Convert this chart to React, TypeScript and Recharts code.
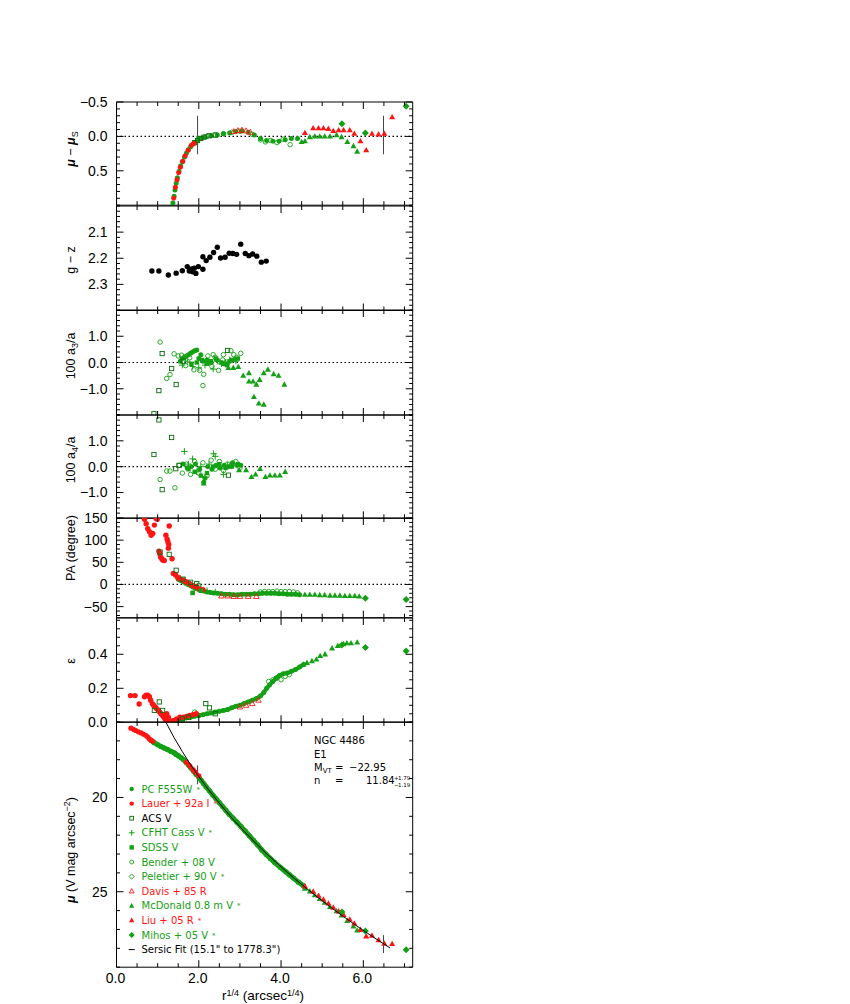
import React from 'react';
import { ScatterChart, Scatter, XAxis, YAxis, ReferenceLine } from 'recharts';

const GREEN = '#14a014';
const DKGREEN = '#0c6a0c';
const RED = '#ff1414';
const FONT = '"Liberation Sans", Arial, sans-serif';
const LFONT = '"DejaVu Sans", sans-serif';

const PL = 116.5; // plot left
const PR = 412.7; // plot right
const XDOM: [number, number] = [0, 7.2];

const range = (a: number, b: number, s: number) => {
  const out: number[] = [];
  for (let v = a; v <= b + s / 1000; v += s) out.push(Math.round(v * 1e6) / 1e6);
  return out;
};

// ---------- tick labels ----------
const xTicks = range(0, 7, 0.5);
const xLabelTicks = [0, 2, 4, 6];
const fitRangeX = [1.97, 6.49];

// ---------- panel 1 : mu - mu_S ----------
const pcRes = [[1.37, 0.97], [1.40, 0.87], [1.42, 0.78], [1.45, 0.68], [1.48, 0.60], [1.52, 0.51], [1.56, 0.43], [1.60, 0.37], [1.65, 0.30], [1.70, 0.24], [1.75, 0.19], [1.80, 0.15], [1.86, 0.11], [1.92, 0.08], [1.98, 0.05], [2.05, 0.03], [2.15, 0.01], [2.30, -0.01], [2.45, -0.02], [2.60, -0.04], [2.75, -0.05], [2.90, -0.07], [3.05, -0.08], [3.20, -0.06], [3.35, -0.02], [3.50, 0.03], [3.65, 0.06], [3.80, 0.07], [3.95, 0.07], [4.10, 0.05], [4.25, 0.03], [4.40, 0.03]];
const lauerRes = [[1.39, 0.90], [1.43, 0.74], [1.47, 0.63], [1.51, 0.53], [1.55, 0.45], [1.61, 0.36], [1.67, 0.28], [1.74, 0.20], [1.82, 0.13], [1.88, 0.10]];
const acsRes = [[1.90, 0.09], [1.97, 0.06], [2.05, 0.03], [2.13, 0.01], [2.25, -0.01], [2.40, -0.02]];
const benderRes = [[2.00, 0.03], [2.20, 0.0], [2.40, -0.02], [2.60, -0.04], [2.80, -0.06], [3.00, -0.075], [3.30, -0.03], [3.50, 0.05], [3.62, 0.08], [3.75, 0.06], [3.90, 0.09], [4.05, 0.04], [4.22, 0.12]];
const davisRes = [[2.85, -0.07], [2.95, -0.085], [3.05, -0.09], [3.15, -0.08], [3.25, -0.06]];
const mcdRes = [[4.50, 0.08], [4.58, 0.07], [4.70, 0.01], [4.82, 0.0], [4.94, 0.0], [5.06, 0.0], [5.19, 0.0], [5.35, -0.02], [5.47, 0.01], [5.61, 0.08], [5.76, 0.14], [5.85, 0.22]];
const liuRes = [[4.58, -0.05], [4.78, -0.12], [4.91, -0.12], [5.03, -0.12], [5.15, -0.11], [5.27, -0.08], [5.40, -0.09], [5.52, -0.09], [5.67, -0.09], [5.78, -0.04], [5.93, 0.07], [6.07, 0.20], [6.21, -0.04], [6.37, -0.03], [6.51, -0.04], [6.70, -0.28]];
const mihosRes = [[5.48, -0.185], [6.05, -0.05], [7.04, -0.44]];

// ---------- panel 2 : g - z ----------
const gzColor = [[0.86, 2.249], [1.03, 2.249], [1.26, 2.264], [1.45, 2.257], [1.60, 2.248], [1.72, 2.232], [1.77, 2.249], [1.83, 2.241], [1.85, 2.252], [1.89, 2.238], [1.93, 2.258], [1.99, 2.232], [2.10, 2.242], [2.10, 2.194], [2.18, 2.209], [2.27, 2.196], [2.36, 2.178], [2.45, 2.158], [2.53, 2.199], [2.64, 2.196], [2.74, 2.181], [2.83, 2.182], [2.92, 2.185], [3.02, 2.146], [3.13, 2.182], [3.22, 2.190], [3.31, 2.184], [3.41, 2.192], [3.52, 2.215], [3.64, 2.211]];

// ---------- panel 3 : 100 a3/a ----------
const acsA3 = [[0.91, -1.95], [1.03, -1.07], [1.11, 0.34], [1.34, -0.23], [1.45, -0.84], [1.03, -2.2], [2.70, 0.46], [1.62, 0.05]];
const benderA3 = [[1.06, 0.78], [1.22, -0.61], [1.30, -0.46], [1.40, 0.33], [1.50, 0.25], [1.58, 0.28], [1.68, -0.12], [1.78, 0.18], [1.88, -0.28], [2.02, -0.3], [2.10, -0.88], [2.12, -0.45], [2.22, 0.25], [2.32, -0.15], [2.40, 0.2], [2.48, -0.3], [2.58, 0.1], [2.70, -0.05], [2.78, 0.45], [2.85, 0.3], [2.92, 0.2], [3.02, 0.35], [2.60, 0.3], [2.35, 0.3]];
const pcA3 = [[1.55, 0.05], [1.60, 0.15], [1.65, 0.2], [1.70, 0.25], [1.75, 0.3], [1.80, 0.35], [1.85, 0.40], [1.90, 0.45], [1.95, 0.48], [2.00, 0.15], [2.05, 0.3], [2.10, 0.05], [2.20, 0.1], [2.30, 0.0], [2.45, 0.1], [2.60, -0.05], [2.75, 0.05], [2.88, 0.12]];
const cfhtA3 = [[1.60, -0.1], [1.72, 0.05], [1.85, -0.15], [2.00, -0.2], [2.15, -0.1], [2.25, 0.0], [2.35, -0.25], [2.45, 0.05], [2.55, -0.05], [2.65, 0.0], [2.75, 0.1], [2.90, 0.05]];
const sdssA3 = [[1.82, -0.05], [1.95, 0.0], [2.08, 0.1], [2.20, -0.05], [2.30, 0.05], [2.42, 0.15], [2.55, 0.0], [2.68, -0.1], [2.80, 0.1], [2.95, 0.15]];
const mcdA3 = [[2.72, -0.20], [2.84, -0.20], [2.96, -0.17], [3.08, -0.5], [3.22, -0.4], [3.22, -0.72], [3.32, -0.72], [3.34, -1.31], [3.40, -0.84], [3.46, -1.56], [3.48, -0.66], [3.58, -1.6], [3.58, -0.4], [3.68, -0.27], [3.82, -0.44], [3.94, -0.5], [4.08, -0.84]];

// ---------- panel 4 : 100 a4/a ----------
const acsA4 = [[0.91, 2.1], [1.03, 1.81], [0.91, 0.47], [1.34, 1.13], [1.11, -0.89], [1.44, -0.08], [2.72, -0.33], [1.52, 0.05]];
const benderA4 = [[1.06, -0.5], [1.22, -0.17], [1.30, -0.17], [1.42, -0.82], [1.52, 0.05], [1.60, -0.25], [1.70, 0.1], [1.80, -0.3], [1.90, 0.2], [2.00, -0.25], [2.10, 0.15], [2.20, -0.35], [2.30, 0.25], [2.40, -0.1], [2.50, 0.2], [2.60, -0.15], [2.70, 0.1], [2.80, 0.05], [2.90, 0.2], [3.00, -0.05]];
const cfhtA4 = [[1.65, 0.59], [1.75, 0.1], [1.85, 0.3], [1.95, -0.2], [2.05, 0.0], [2.15, -0.4], [2.25, 0.1], [2.36, 0.5], [2.40, 0.4], [2.50, 0.0], [2.60, -0.3], [2.70, 0.05]];
const pcA4 = [[1.62, 0.1], [1.72, -0.05], [1.82, 0.0], [1.92, 0.1], [2.02, -0.1], [2.12, -0.6], [2.15, -0.45], [2.22, 0.0], [2.32, -0.1], [2.42, 0.05], [2.52, -0.05], [2.62, 0.05], [2.72, 0.0], [2.82, 0.15], [2.92, 0.05], [3.02, 0.05]];
const sdssA4 = [[1.75, -0.1], [1.90, -0.2], [2.05, -0.35], [2.20, -0.25], [2.35, 0.0], [2.50, 0.1], [2.65, -0.05], [2.80, 0.0], [2.95, 0.1]];
const mcdA4 = [[2.12, -0.65], [2.98, -0.13], [3.15, -0.13], [3.28, -0.4], [3.38, -0.3], [3.49, -0.09], [3.62, -0.4], [3.73, -0.34], [3.85, -0.34], [3.97, -0.34], [4.10, -0.2]];

// ---------- panel 5 : PA ----------
const lauerPA = [[0.68, 147], [0.72, 137], [0.76, 126], [0.80, 119], [0.84, 111], [0.88, 115], [0.92, 134], [0.96, 149], [0.99, 147], [1.03, 75], [1.05, 70], [1.07, 62], [1.10, 58], [1.12, 55], [1.16, 54], [1.20, 111], [1.23, 102], [1.25, 96], [1.27, 90], [1.26, 82], [1.28, 132], [1.35, 58], [1.38, 25], [1.43, 22], [1.48, 17], [1.53, 13], [1.61, 10], [1.69, 6], [1.77, 2], [1.85, -3], [1.93, -5], [2.01, -10], [2.10, -12]];
const acsPA = [[1.06, 73], [1.28, 68], [1.45, 32], [1.62, 12], [1.80, 5], [1.95, 2]];
const sdssPA = [[1.85, -19], [2.05, -14]];
const pcPA = [[1.50, 12], [1.56, 9], [1.62, 6], [1.68, 3], [1.74, 0], [1.80, -3], [1.86, -6], [1.92, -9], [1.98, -11], [2.05, -13], [2.12, -15], [2.20, -17], [2.28, -18], [2.36, -19], [2.45, -20], [2.55, -21], [2.65, -22], [2.75, -22], [2.85, -23], [2.95, -23], [3.05, -22], [3.15, -22], [3.25, -22], [3.35, -21], [3.45, -21], [3.55, -20], [3.65, -20], [3.75, -20], [3.85, -20], [3.95, -21], [4.05, -21], [4.15, -22], [4.25, -22], [4.35, -22], [4.45, -23]];
const benderPA = [[1.70, 4], [2.00, -2], [3.50, -17], [3.60, -16], [3.70, -16], [3.80, -16], [3.90, -15], [4.00, -16], [4.10, -16], [4.20, -16], [4.30, -17], [4.40, -19]];
const cfhtPA = [[1.55, 14], [1.65, 8], [1.75, 2], [1.90, -5], [2.05, -9], [2.20, -14], [2.40, -17]];
const davisPA = [[2.55, -26], [2.70, -26], [2.85, -27], [3.00, -27], [3.20, -27], [3.40, -27]];
const mcdPA = [[4.58, -23], [4.70, -23], [4.82, -23], [4.94, -24], [5.06, -24], [5.19, -25], [5.31, -25], [5.43, -25], [5.55, -26], [5.67, -26], [5.79, -26], [5.90, -27]];
const mihosPA = [[6.05, -31], [7.04, -34]];

// ---------- panel 6 : ellipticity ----------
const lauerEps = [[0.34, 0.157], [0.45, 0.157], [0.55, 0.108], [0.68, 0.15], [0.72, 0.16], [0.76, 0.16], [0.80, 0.15], [0.83, 0.13], [0.87, 0.11], [0.90, 0.10], [0.94, 0.09], [0.98, 0.08], [1.02, 0.07], [1.05, 0.06], [1.08, 0.05], [1.12, 0.04], [1.15, 0.03], [1.18, 0.02], [1.21, 0.01], [1.24, 0.005], [1.26, 0.03], [1.22, 0.05], [1.30, 0.01], [1.38, 0.01], [1.46, 0.02], [1.54, 0.03], [1.62, 0.03], [1.70, 0.035], [1.78, 0.04], [1.86, 0.045], [1.94, 0.05]];
const acsEps = [[0.92, 0.07], [1.04, 0.12], [1.12, 0.07], [1.60, 0.02], [1.75, 0.03], [2.17, 0.11], [2.26, 0.085], [2.40, 0.05]];
const pcEps = [[1.40, 0.01], [1.50, 0.015], [1.60, 0.02], [1.70, 0.025], [1.80, 0.03], [1.90, 0.035], [2.00, 0.04], [2.10, 0.045], [2.20, 0.05], [2.30, 0.055], [2.40, 0.06], [2.50, 0.065], [2.60, 0.07], [2.70, 0.075], [2.80, 0.085], [2.90, 0.095], [3.00, 0.10], [3.10, 0.11], [3.20, 0.12], [3.30, 0.13], [3.40, 0.14], [3.50, 0.155], [3.58, 0.175], [3.65, 0.20], [3.72, 0.22], [3.80, 0.24], [3.88, 0.26], [3.96, 0.275], [4.05, 0.285], [4.15, 0.29], [4.25, 0.30], [4.35, 0.31], [4.45, 0.325], [4.55, 0.34]];
const benderEps = [[1.90, 0.06], [2.00, 0.04], [3.70, 0.24], [3.80, 0.25], [3.90, 0.26], [4.00, 0.25], [4.10, 0.27], [4.20, 0.28]];
const davisEps = [[3.00, 0.09], [3.15, 0.10], [3.30, 0.11], [3.45, 0.13]];
const mcdEps = [[4.55, 0.34], [4.63, 0.35], [4.75, 0.36], [4.86, 0.37], [4.95, 0.39], [5.07, 0.40], [5.24, 0.435], [5.38, 0.45], [5.52, 0.46], [5.60, 0.465], [5.70, 0.465], [5.85, 0.47]];
const mihosEps = [[5.48, 0.455], [6.05, 0.44], [7.04, 0.42]];

// ---------- panel 7 : surface brightness ----------
const lauerMu = [[0.35, 16.33], [0.42, 16.40], [0.47, 16.45], [0.53, 16.52], [0.60, 16.58], [0.66, 16.65], [0.72, 16.72], [0.76, 16.80], [0.80, 16.90], [0.84, 16.96], [0.88, 17.02], [1.70, 18.14], [1.78, 18.33], [1.86, 18.52], [1.92, 18.66], [2.00, 18.85]];
const pcMu = [[0.84, 16.98], [0.92, 17.10], [1.00, 17.20], [1.08, 17.30], [1.16, 17.38], [1.24, 17.46], [1.32, 17.55], [1.40, 17.63], [1.45, 17.72], [1.51, 17.80], [1.57, 17.89], [1.63, 18.00], [1.69, 18.13], [1.75, 18.28], [1.81, 18.44], [1.87, 18.60], [1.93, 18.76], [2.00, 18.92], [2.06, 19.10], [2.12, 19.27], [2.18, 19.44], [2.26, 19.65], [2.34, 19.87], [2.42, 20.07], [2.50, 20.28], [2.58, 20.48], [2.66, 20.69], [2.74, 20.89], [2.83, 21.09], [2.93, 21.32], [3.03, 21.55], [3.13, 21.79], [3.23, 22.03], [3.33, 22.28], [3.43, 22.52], [3.53, 22.78], [3.64, 23.03], [3.74, 23.24], [3.84, 23.44], [3.98, 23.70], [4.12, 23.95], [4.21, 24.11], [4.30, 24.27], [4.42, 24.49], [4.55, 24.70]];
const mcdMu = [[4.58, 24.83], [4.70, 24.98], [4.82, 25.18], [4.94, 25.38], [5.06, 25.58], [5.19, 25.80], [5.35, 26.03], [5.47, 26.25], [5.61, 26.54], [5.76, 26.83], [5.85, 27.05]];
const liuMu = [[4.58, 24.71], [4.78, 24.99], [4.91, 25.21], [5.03, 25.41], [5.15, 25.62], [5.27, 25.84], [5.40, 26.04], [5.52, 26.23], [5.67, 26.47], [5.78, 26.68], [5.93, 27.02], [6.07, 27.36], [6.21, 27.32], [6.37, 27.56], [6.51, 27.75], [6.70, 27.77]];
const mihosMu = [[5.48, 26.08], [6.05, 27.08], [7.04, 28.07]];
const fitMu = [[1.20, 16.01], [1.40, 16.83], [1.60, 17.57], [1.80, 18.26], [1.97, 18.80], [2.20, 19.49], [2.50, 20.31], [2.80, 21.08], [3.10, 21.79], [3.40, 22.46], [3.70, 23.09], [4.00, 23.68], [4.30, 24.25], [4.60, 24.79], [4.90, 25.31], [5.20, 25.81], [5.50, 26.29], [5.80, 26.75], [6.10, 27.20], [6.40, 27.63], [6.65, 27.98]];

const legendNames = ['PC F555W', 'Lauer + 92a I', 'ACS V', 'CFHT Cass V', 'SDSS V', 'Bender + 08 V', 'Peletier + 90 V', 'Davis + 85 R', 'McDonald 0.8 m V', 'Liu + 05 R', 'Mihos + 05 V', 'Sersic Fit (15.1" to 1778.3")'];
const legendStar = [true, true, false, true, false, false, true, false, true, true, true, false];
const legendKinds = ['dot', 'dot', 'box', 'plus', 'sq', 'ring', 'odia', 'otri', 'tri', 'tri', 'dia', 'dash'];
const legendColors = [GREEN, RED, DKGREEN, GREEN, GREEN, GREEN, GREEN, RED, GREEN, RED, GREEN, '#000'];
const legendTextColors = [GREEN, RED, '#000', GREEN, GREEN, GREEN, GREEN, RED, GREEN, RED, GREEN, '#000'];

const pts = (a: number[][]) => a.map(([x, y]) => ({ x, y }));

const drawMarker = (kind: string, color: string, cx: number, cy: number, r: number) => {
  const sw = 0.9;
  switch (kind) {
    case 'dot':
      return <circle cx={cx} cy={cy} r={r} fill={color} />;
    case 'ring':
      return <circle cx={cx} cy={cy} r={r * 0.9} fill="none" stroke={color} strokeWidth={sw} />;
    case 'box':
      return <rect x={cx - r * 0.85} y={cy - r * 0.85} width={r * 1.7} height={r * 1.7} fill="none" stroke={color} strokeWidth={sw} />;
    case 'sq':
      return <rect x={cx - r} y={cy - r} width={r * 2} height={r * 2} fill={color} />;
    case 'plus':
      return (
        <g stroke={color} strokeWidth={1}>
          <line x1={cx - r * 1.3} x2={cx + r * 1.3} y1={cy} y2={cy} />
          <line x1={cx} x2={cx} y1={cy - r * 1.3} y2={cy + r * 1.3} />
        </g>
      );
    case 'odia':
      return <polygon points={`${cx},${cy - r * 1.2} ${cx + r * 1.2},${cy} ${cx},${cy + r * 1.2} ${cx - r * 1.2},${cy}`} fill="none" stroke={color} strokeWidth={sw} />;
    case 'dia':
      return <polygon points={`${cx},${cy - r * 1.4} ${cx + r * 1.4},${cy} ${cx},${cy + r * 1.4} ${cx - r * 1.4},${cy}`} fill={color} />;
    case 'otri':
      return <polygon points={`${cx},${cy - r * 1.2} ${cx + r * 1.1},${cy + r * 0.8} ${cx - r * 1.1},${cy + r * 0.8}`} fill="none" stroke={color} strokeWidth={sw} />;
    case 'tri':
      return <polygon points={`${cx},${cy - r * 1.3} ${cx + r * 1.2},${cy + r * 0.85} ${cx - r * 1.2},${cy + r * 0.85}`} fill={color} />;
    case 'dash':
      return <line x1={cx - 3} x2={cx + 3} y1={cy} y2={cy} stroke={color} strokeWidth={1} />;
    default:
      return <g />;
  }
};

const mk = (kind: string, color: string, r = 2.5) => (p: any) => {
  const { cx, cy } = p;
  if (!Number.isFinite(cx) || !Number.isFinite(cy)) return <g />;
  return drawMarker(kind, color, cx, cy, r);
};
const noMark = () => <g />;

const XTick = (props: any) => {
  const { x, y, payload, side, show } = props;
  const v = payload.value;
  const major = xLabelTicks.some((t) => Math.abs(t - v) < 1e-6);
  const len = major ? 7 : 4;
  const dir = side === 'top' ? 1 : -1;
  return (
    <g>
      <line x1={x} x2={x} y1={y} y2={y + dir * len} stroke="#000" strokeWidth={1} />
      {show && major && (
        <text x={x - 1} y={y + 16} textAnchor="middle" fontSize={14} fontFamily={FONT} fill="#000">
          {v.toFixed(1)}
        </text>
      )}
    </g>
  );
};

const YTick = (props: any) => {
  const { x, y, payload, side, labels, fmt } = props;
  const v = payload.value;
  const major = labels.some((t: number) => Math.abs(t - v) < 1e-6);
  const len = major ? 7 : 3.5;
  const dir = side === 'left' ? 1 : -1;
  return (
    <g>
      <line x1={x} x2={x + dir * len} y1={y} y2={y} stroke="#000" strokeWidth={1} />
      {side === 'left' && major && (
        <text x={x - 9} y={y + 5} textAnchor="end" fontSize={14} fontFamily={FONT} fill="#000">
          {fmt(v)}
        </text>
      )}
    </g>
  );
};

const fmt1 = (v: number) => (v < -1e-9 ? '\u2212' : '') + Math.abs(v).toFixed(1);
const fmt0 = (v: number) => (v < -1e-9 ? '\u2212' : '') + Math.abs(v).toFixed(0);

const AX = { stroke: '#000', strokeWidth: 1 };

const Panel = ({ top, h, domain, reversed, ticks, labels, fmt, bottom, children }: any) => {
  const pad = 5;
  const xh = bottom ? 40 : pad;
  return (
    <div style={{ position: 'absolute', left: 0, top: top - pad }}>
      <ScatterChart width={850} height={h + pad + xh} margin={{ top: 0, right: 850 - PR - 10, bottom: 0, left: 0 }}>
        <XAxis xAxisId="b" type="number" dataKey="x" domain={XDOM} ticks={xTicks} allowDataOverflow interval={0} height={xh} tickSize={0} tickMargin={0} tickLine={false} axisLine={AX} tick={<XTick side="bottom" show={!!bottom} />} />
        <XAxis xAxisId="t" orientation="top" type="number" dataKey="x" domain={XDOM} ticks={xTicks} allowDataOverflow interval={0} height={pad} tickSize={0} tickMargin={0} tickLine={false} axisLine={AX} tick={<XTick side="top" show={false} />} />
        <YAxis yAxisId="l" type="number" dataKey="y" domain={domain} reversed={reversed} ticks={ticks} allowDataOverflow interval={0} width={PL} tickSize={0} tickMargin={0} tickLine={false} axisLine={AX} tick={<YTick side="left" labels={labels} fmt={fmt} />} />
        <YAxis yAxisId="r" orientation="right" type="number" dataKey="y" domain={domain} reversed={reversed} ticks={ticks} allowDataOverflow interval={0} width={10} tickSize={0} tickMargin={0} tickLine={false} axisLine={AX} tick={<YTick side="right" labels={labels} fmt={fmt} />} />
        {children}
      </ScatterChart>
    </div>
  );
};

const S = (data: number[][], kind: string, color: string, r = 2.5, line?: any) => (
  <Scatter xAxisId="b" yAxisId="l" data={pts(data)} shape={mk(kind, color, r)} line={line} isAnimationActive={false} />
);

const zeroLine = <ReferenceLine xAxisId="b" yAxisId="l" y={0} stroke="#000" strokeWidth={1.2} strokeDasharray="1.5 2.5" ifOverflow="hidden" />;

export default function App() {
  return (
    <div style={{ position: 'absolute', left: 0, top: 0, width: 850, height: 1004, background: '#fff' }}>
      <style>{'.recharts-surface { overflow: visible; } .recharts-wrapper { overflow: visible; }'}</style>
      {/* panel 1 */}
      <Panel top={102.3} h={103.2} domain={[-0.5, 1.0]} reversed ticks={range(-0.5, 1.0, 0.1)} labels={[-0.5, 0, 0.5]} fmt={fmt1}>
        {zeroLine}
        {fitRangeX.map((fx) => (
          <ReferenceLine key={fx} xAxisId="b" yAxisId="l" segment={[{ x: fx, y: -0.3 }, { x: fx, y: 0.26 }]} stroke="#444" strokeWidth={1} />
        ))}
        {S(benderRes, 'ring', GREEN)}
        {S(pcRes, 'dot', GREEN)}
        {S(acsRes, 'box', DKGREEN)}
        {S(lauerRes, 'dot', RED)}
        {S(davisRes, 'otri', RED)}
        {S(mcdRes, 'tri', GREEN)}
        {S(liuRes, 'tri', RED)}
        {S(mihosRes, 'dia', GREEN)}
      </Panel>

      {/* panel 2 */}
      <Panel top={205.5} h={104.5} domain={[2.0, 2.4]} reversed ticks={range(2.0, 2.4, 0.02)} labels={[2.1, 2.2, 2.3]} fmt={fmt1}>
        {S(gzColor, 'dot', '#000', 2.7)}
      </Panel>

      {/* panel 3 */}
      <Panel top={310} h={105} domain={[-2, 2]} ticks={range(-2, 2, 0.2)} labels={[-1, 0, 1]} fmt={fmt1}>
        {zeroLine}
        {S(benderA3, 'ring', GREEN)}
        {S(cfhtA3, 'plus', GREEN)}
        {S(sdssA3, 'sq', GREEN, 2.2)}
        {S(pcA3, 'dot', GREEN)}
        {S(acsA3, 'box', DKGREEN)}
        {S(mcdA3, 'tri', GREEN)}
      </Panel>

      {/* panel 4 */}
      <Panel top={415} h={103.3} domain={[-2, 2]} ticks={range(-2, 2, 0.2)} labels={[-1, 0, 1]} fmt={fmt1}>
        {zeroLine}
        {S(benderA4, 'ring', GREEN)}
        {S(cfhtA4, 'plus', GREEN)}
        {S(sdssA4, 'sq', GREEN, 2.2)}
        {S(pcA4, 'dot', GREEN)}
        {S(acsA4, 'box', DKGREEN)}
        {S(mcdA4, 'tri', GREEN)}
      </Panel>

      {/* panel 5 */}
      <Panel top={518.3} h={99.7} domain={[-75, 150]} ticks={range(-70, 150, 10)} labels={[-50, 0, 50, 100, 150]} fmt={fmt0}>
        {zeroLine}
        {S(pcPA, 'dot', GREEN, 2.5, { stroke: GREEN, strokeWidth: 4 })}
        {S(benderPA, 'ring', GREEN)}
        {S(cfhtPA, 'plus', GREEN)}
        {S(davisPA, 'otri', RED)}
        {S(lauerPA, 'dot', RED, 2.7)}
        {S(acsPA, 'box', DKGREEN)}
        {S(sdssPA, 'sq', GREEN, 2.3)}
        {S(mcdPA, 'tri', GREEN)}
        {S(mihosPA, 'dia', GREEN)}
      </Panel>

      {/* panel 6 */}
      <Panel top={618} h={104.3} domain={[0, 0.6135]} ticks={range(0, 0.6, 0.05)} labels={[0, 0.2, 0.4]} fmt={fmt1}>
        {S(pcEps, 'dot', GREEN, 2.5, { stroke: GREEN, strokeWidth: 4 })}
        {S(benderEps, 'ring', GREEN)}
        {S(davisEps, 'otri', RED)}
        {S(lauerEps, 'dot', RED, 2.7)}
        {S(acsEps, 'box', DKGREEN)}
        {S(mcdEps, 'tri', GREEN)}
        {S(mihosEps, 'dia', GREEN)}
      </Panel>

      {/* panel 7 */}
      <Panel top={722.3} h={245.2} domain={[16, 29]} reversed ticks={range(16, 29, 1)} labels={[20, 25]} fmt={fmt0} bottom>
        {S(pcMu, 'dot', GREEN, 2.6, { stroke: GREEN, strokeWidth: 5 })}
        {S(lauerMu, 'dot', RED, 2.6)}
        {S(mcdMu, 'tri', GREEN)}
        {S(liuMu, 'tri', RED)}
        {S(mihosMu, 'dia', GREEN)}
        <Scatter xAxisId="b" yAxisId="l" data={pts(fitMu)} shape={noMark} line={{ stroke: '#000', strokeWidth: 1 }} isAnimationActive={false} />
        <ReferenceLine xAxisId="b" yAxisId="l" segment={[{ x: fitRangeX[0], y: 18.3 }, { x: fitRangeX[0], y: 19.3 }]} stroke="#444" strokeWidth={1} />
        <ReferenceLine xAxisId="b" yAxisId="l" segment={[{ x: fitRangeX[1], y: 27.3 }, { x: fitRangeX[1], y: 28.25 }]} stroke="#444" strokeWidth={1} />
      </Panel>

      {/* text overlay */}
      <svg width={850} height={1004} style={{ position: 'absolute', left: 0, top: 0, pointerEvents: 'none' }}>
        <g fontFamily={FONT} fontSize={12.5} fill="#000" textAnchor="middle">
          <text transform="translate(75,149) rotate(-90)">
            <tspan fontWeight="bold" fontStyle="italic">μ</tspan> − <tspan fontWeight="bold" fontStyle="italic">μ</tspan>
            <tspan fontSize={9} dy={3}>S</tspan>
          </text>
          <text transform="translate(75,260) rotate(-90)">g − z</text>
          <text transform="translate(75,356) rotate(-90)">
            100 a<tspan fontSize={9} dy={3}>3</tspan>
            <tspan dy={-3}>/a</tspan>
          </text>
          <text transform="translate(75,460) rotate(-90)">
            100 a<tspan fontSize={9} dy={3}>4</tspan>
            <tspan dy={-3}>/a</tspan>
          </text>
          <text transform="translate(75,548) rotate(-90)">PA (degree)</text>
          <text transform="translate(75,661) rotate(-90)">ε</text>
          <text transform="translate(75,850) rotate(-90)">
            <tspan fontWeight="bold" fontStyle="italic">μ</tspan> (V mag arcsec<tspan fontSize={9} dy={-5}>−2</tspan>
            <tspan dy={5}>)</tspan>
          </text>
          <text x={263} y={1000} fontSize={13.5}>
            r<tspan fontSize={9} dy={-4}>1/4</tspan>
            <tspan dy={4}> (arcsec</tspan>
            <tspan fontSize={9} dy={-4}>1/4</tspan>
            <tspan dy={4}>)</tspan>
          </text>
        </g>

        <g fontFamily={LFONT} fontSize={10}>
          {legendNames.map((name, i) => {
            const cy = 789 + i * 14.6;
            return (
              <g key={name}>
                {drawMarker(legendKinds[i], legendColors[i], 131.7, cy, 2.2)}
                <text x={141.5} y={cy + 3.6} fill={legendTextColors[i]}>
                  {name}
                  {legendStar[i] && (
                    <tspan fontSize={7} dx={4} dy={-1}>*</tspan>
                  )}
                </text>
              </g>
            );
          })}
        </g>

        <g fontFamily={LFONT} fontSize={10} fill="#000">
          <text x={314} y={744}>NGC 4486</text>
          <text x={314} y={758}>E1</text>
          <text x={314} y={771}>
            M<tspan fontSize={7} dy={2}>VT</tspan>
          </text>
          <text x={335} y={771}>=</text>
          <text x={349} y={771}>−22.95</text>
          <text x={314} y={784}>n</text>
          <text x={335} y={784}>=</text>
          <text x={366} y={784}>11.84</text>
          <text x={394} y={780} fontSize={5.5}>+</text>
          <text x={398} y={780} fontSize={5.5}>1.79</text>
          <text x={394} y={786.5} fontSize={5.5}>−</text>
          <text x={398} y={786.5} fontSize={5.5}>1.19</text>
        </g>
      </svg>
    </div>
  );
}
